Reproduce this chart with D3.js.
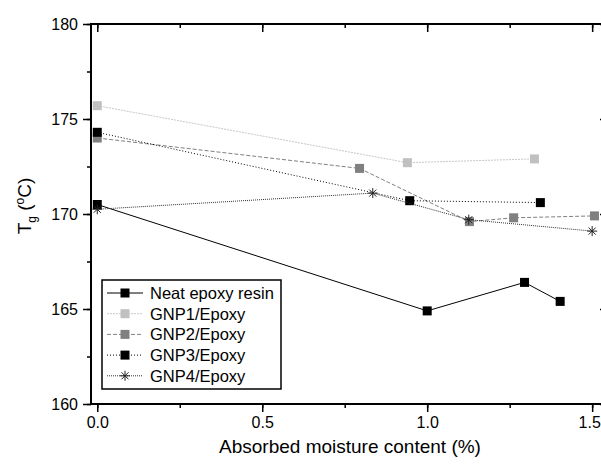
<!DOCTYPE html>
<html>
<head>
<meta charset="utf-8">
<script src="https://cdn.jsdelivr.net/npm/d3@7"></script>
<style>
  body { margin: 0; background: #fff; overflow: hidden; }
  svg { display: block; overflow: hidden; }
  text { font-family: "Liberation Sans", Arial, sans-serif; fill: #000; }
</style>
</head>
<body>
<div id="chart"></div>
<script>
// Data
const seriesNames = ["Neat epoxy resin", "GNP1/Epoxy", "GNP2/Epoxy", "GNP3/Epoxy", "GNP4/Epoxy"];
const neatX = [0, 1.0, 1.295, 1.403];
const neatY = [170.5, 164.9, 166.4, 165.4];
const gnp1X = [0, 0.94, 1.325];
const gnp1Y = [175.7, 172.7, 172.9];
const gnp2X = [0, 0.795, 1.128, 1.262, 1.507];
const gnp2Y = [174.0, 172.4, 169.6, 169.8, 169.9];
const gnp3X = [0, 0.947, 1.343];
const gnp3Y = [174.3, 170.7, 170.6];
const gnp4X = [0, 0.835, 1.126, 1.5];
const gnp4Y = [170.25, 171.1, 169.7, 169.1];
const xTicks = [0, 0.5, 1.0, 1.5];
const yTicks = [160, 165, 170, 175, 180];

const width = 601, height = 464;
const svg = d3.select("#chart").append("svg")
    .attr("width", width)
    .attr("height", height);

const x = d3.scaleLinear().domain([-0.019, 1.548]).range([91, 608]);
const y = d3.scaleLinear().domain([160, 180]).range([404, 24]);

const styles = [
  { stroke: "#000", dash: null, fill: "#000", shape: "square" },
  { stroke: "#c8c8c8", dash: "2,1", fill: "#c0c0c0", shape: "square" },
  { stroke: "#808080", dash: "4,2", fill: "#808080", shape: "square" },
  { stroke: "#000", dash: "1,2", fill: "#000", shape: "square" },
  { stroke: "#333", dash: "1,1", fill: "#000", shape: "star" }
];

const series = [
  d3.zip(neatX, neatY),
  d3.zip(gnp1X, gnp1Y),
  d3.zip(gnp2X, gnp2Y),
  d3.zip(gnp3X, gnp3Y),
  d3.zip(gnp4X, gnp4Y)
];

// Axes
const minorX = d3.range(0, 1.51, 0.25);
const minorY = d3.range(160, 180.1, 2.5);

const fmtX = d3.format(".1f");

svg.append("g")
    .attr("transform", `translate(0,${y(160)})`)
    .call(d3.axisBottom(x).tickValues(minorX).tickSize(4).tickFormat(""))
    .call(g => g.select(".domain").remove());
svg.append("g")
    .attr("transform", `translate(0,${y(160)})`)
    .call(d3.axisBottom(x).tickValues(xTicks).tickSize(8).tickPadding(5).tickFormat(fmtX))
    .call(g => g.select(".domain").remove())
    .selectAll("text")
    .style("font-size", "16px")
    .attr("dx", d => d === 1.5 ? -3 : 0);

svg.append("g")
    .attr("transform", `translate(${x.range()[0]},0)`)
    .call(d3.axisLeft(y).tickValues(minorY).tickSize(4).tickFormat(""))
    .call(g => g.select(".domain").remove());
svg.append("g")
    .attr("transform", `translate(${x.range()[0]},0)`)
    .call(d3.axisLeft(y).tickValues(yTicks).tickSize(8).tickPadding(5).tickFormat(d3.format("d")))
    .call(g => g.select(".domain").remove())
    .selectAll("text").style("font-size", "16px");

// top and right (inward ticks)
svg.append("g")
    .attr("transform", `translate(0,${y(180)})`)
    .call(d3.axisTop(x).tickValues(minorX).tickSize(-4).tickFormat(""))
    .call(g => g.select(".domain").remove());
svg.append("g")
    .attr("transform", `translate(0,${y(180)})`)
    .call(d3.axisTop(x).tickValues(xTicks).tickSize(-8).tickFormat(""))
    .call(g => g.select(".domain").remove());
svg.append("g")
    .attr("transform", `translate(${x.range()[1]},0)`)
    .call(d3.axisRight(y).tickValues(yTicks).tickSize(-8).tickFormat(""))
    .call(g => g.select(".domain").remove());

svg.selectAll(".tick line").attr("stroke", "#000").attr("stroke-width", 1.5);

// frame
svg.append("rect")
    .attr("x", x.range()[0])
    .attr("y", y(180))
    .attr("width", x.range()[1] - x.range()[0])
    .attr("height", y(160) - y(180))
    .attr("fill", "none")
    .attr("stroke", "#000")
    .attr("stroke-width", 2);

// Lines and markers
const line = d3.line().x(d => x(d[0])).y(d => y(d[1]));

function drawMarker(g, cx, cy, s) {
  if (s.shape === "square") {
    g.append("rect")
        .attr("x", cx - 4.5).attr("y", cy - 4.5)
        .attr("width", 9).attr("height", 9)
        .attr("fill", s.fill);
  } else {
    const r = 5;
    const pts = [[0, 1], [1, 0], [0.707, 0.707], [0.707, -0.707]];
    pts.forEach(p => {
      g.append("line")
          .attr("x1", cx - p[0] * r).attr("y1", cy - p[1] * r)
          .attr("x2", cx + p[0] * r).attr("y2", cy + p[1] * r)
          .attr("stroke", "#222").attr("stroke-width", 1);
    });
  }
}

series.forEach((data, i) => {
  const s = styles[i];
  svg.append("path")
      .datum(data)
      .attr("d", line)
      .attr("fill", "none")
      .attr("stroke", s.stroke)
      .attr("stroke-width", 1)
      .attr("stroke-dasharray", s.dash);
  const g = svg.append("g");
  data.forEach(d => drawMarker(g, x(d[0]), y(d[1]), s));
});

// Legend
const legend = svg.append("g");
legend.append("rect")
    .attr("x", 102).attr("y", 280)
    .attr("width", 179).attr("height", 109)
    .attr("fill", "#fff")
    .attr("stroke", "#000")
    .attr("stroke-width", 1.5);

seriesNames.forEach((name, i) => {
  const s = styles[i];
  const ly = 293 + i * 20.7;
  legend.append("line")
      .attr("x1", 107).attr("x2", 143)
      .attr("y1", ly).attr("y2", ly)
      .attr("stroke", s.stroke)
      .attr("stroke-width", 1)
      .attr("stroke-dasharray", s.dash);
  drawMarker(legend, 125, ly, s);
  legend.append("text")
      .attr("x", 150).attr("y", ly + 6)
      .style("font-size", "16.5px")
      .text(name);
});

// Axis titles
svg.append("text")
    .attr("x", 350).attr("y", 453)
    .attr("text-anchor", "middle")
    .style("font-size", "19px")
    .text("Absorbed moisture content (%)");

const yt = svg.append("text")
    .attr("transform", "translate(31,206) rotate(-90)")
    .attr("text-anchor", "middle")
    .style("font-size", "19px");
yt.append("tspan").text("T");
yt.append("tspan").attr("dy", 5).style("font-size", "12px").text("g");
yt.append("tspan").attr("dy", -5).text(" (");
yt.append("tspan").attr("dy", -7).style("font-size", "12px").text("o");
yt.append("tspan").attr("dy", 7).text("C)");
</script>
</body>
</html>
